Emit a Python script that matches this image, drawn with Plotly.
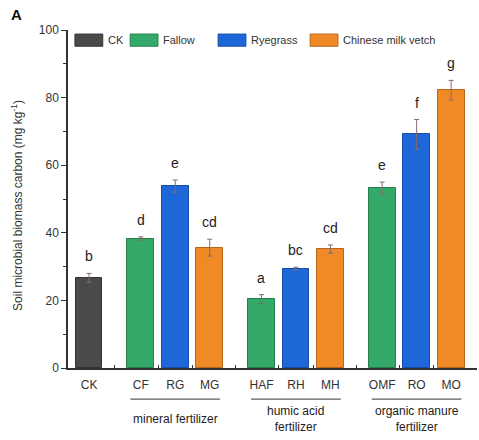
import plotly.graph_objects as go

# ---- data ----
labels = ["CK", "CF", "RG", "MG", "HAF", "RH", "MH", "OMF", "RO", "MO"]
positions = [1, 2.5, 3.5, 4.5, 6, 7, 8, 9.5, 10.5, 11.5]
values = [26.7, 38.3, 53.8, 35.6, 20.4, 29.4, 35.2, 53.2, 69.1, 82.2]
errors = [1.3, 0.5, 1.8, 2.5, 1.3, 0.4, 1.2, 1.8, 4.4, 2.9]
letters = ["b", "d", "e", "cd", "a", "bc", "cd", "e", "f", "g"]
bar_series = ["CK", "Fallow", "Ryegrass", "Chinese milk vetch",
              "Fallow", "Ryegrass", "Chinese milk vetch",
              "Fallow", "Ryegrass", "Chinese milk vetch"]
series_names = ["CK", "Fallow", "Ryegrass", "Chinese milk vetch"]
groups = ["mineral fertilizer", "humic acid<br>fertilizer", "organic manure<br>fertilizer"]
group_members = [["CF", "RG", "MG"], ["HAF", "RH", "MH"], ["OMF", "RO", "MO"]]

fill = {"CK": "#4a4a4a", "Fallow": "#34a96a", "Ryegrass": "#1d67d8", "Chinese milk vetch": "#ef8a26"}
edge = {"CK": "#333333", "Fallow": "#23804d", "Ryegrass": "#154ea6", "Chinese milk vetch": "#b8661a"}

# legend layout (paper fractions)
legend_x = [0.017, 0.152, 0.367, 0.592]
swatch_w = 0.068

FONT = "Liberation Sans, Arial"

fig = go.Figure()
for s in series_names:
    idx = [i for i, b in enumerate(bar_series) if b == s]
    fig.add_trace(go.Bar(
        x=[positions[i] for i in idx], y=[values[i] for i in idx], name=s,
        width=0.78, showlegend=False,
        marker=dict(color=fill[s], line=dict(color=edge[s], width=1)),
        error_y=dict(type="data", array=[errors[i] for i in idx], color="#8a6a6a",
                     thickness=1, width=2.5),
    ))

# custom legend with wide swatches
for s, lx in zip(series_names, legend_x):
    fig.add_shape(type="rect", xref="paper", yref="paper", x0=lx, x1=lx + swatch_w,
                  y0=0.952, y1=0.988, fillcolor=fill[s], line=dict(color=edge[s], width=1))
    fig.add_annotation(text=s, xref="paper", yref="paper", x=lx + swatch_w + 0.008, y=0.970,
                       xanchor="left", yanchor="middle", showarrow=False,
                       font=dict(size=11, color="#333333", family=FONT))

# minor ticks between bars
mids = [(positions[i] + positions[i + 1]) / 2 for i in range(len(positions) - 1)]

# significance letters
for p, v, e, l in zip(positions, values, errors, letters):
    fig.add_annotation(x=p, y=v + e, text=l, showarrow=False, yanchor="bottom", yshift=7,
                       font=dict(size=14, color="#222222", family=FONT))

# group lines and labels
for g, mem in zip(groups, group_members):
    xs = [positions[labels.index(m)] for m in mem]
    fig.add_shape(type="line", xref="x", yref="paper", x0=min(xs) - 0.3, x1=max(xs) + 0.3,
                  y0=-0.092, y1=-0.092, line=dict(color="#333333", width=1))
    fig.add_annotation(x=sum(xs) / len(xs), xref="x", yref="paper", y=-0.152, yanchor="middle",
                       text=g, showarrow=False,
                       font=dict(size=12, color="#222222", family=FONT))

fig.add_annotation(text="Soil microbial biomass carbon (mg kg<sup>-1</sup>)", textangle=-90,
                   xref="paper", yref="paper", x=-0.125, y=0.482, xanchor="center",
                   yanchor="middle", showarrow=False,
                   font=dict(size=12, color="#333333", family=FONT))
fig.add_annotation(text="<b>A</b>", xref="paper", yref="paper", x=-0.145, y=1.015,
                   xanchor="left", yanchor="bottom", showarrow=False,
                   font=dict(size=15, color="#111111", family=FONT))

axis_font = dict(size=12, color="#333333", family=FONT)
fig.update_layout(
    width=479, height=440,
    margin=dict(l=68, r=2, t=30, b=72),
    plot_bgcolor="white", paper_bgcolor="white",
    bargap=0, barmode="overlay", showlegend=False,
    font=dict(family=FONT, color="#333333"),
    xaxis=dict(range=[0.39, 12.25], tickmode="array", tickvals=positions, ticktext=labels,
               ticks="", showline=True, linecolor="#333333", linewidth=1.5, automargin=False,
               showgrid=False, zeroline=False, tickfont=axis_font, ticklabelstandoff=5,
               minor=dict(tickvals=mids, ticks="inside", ticklen=3, tickcolor="#333333")),
    yaxis=dict(range=[0, 100], tickvals=[0, 20, 40, 60, 80, 100], ticks="outside", ticklen=5,
               tickcolor="#333333", showline=True, linecolor="#333333", linewidth=1.5,
               showgrid=False, zeroline=False, tickfont=axis_font, automargin=False,
               minor=dict(tickvals=[10, 30, 50, 70, 90], ticks="outside", ticklen=3,
                          tickcolor="#333333")),
)

fig.write_html("out.html", config={"displayModeBar": False},
               post_script="document.body.style.margin='0';")
